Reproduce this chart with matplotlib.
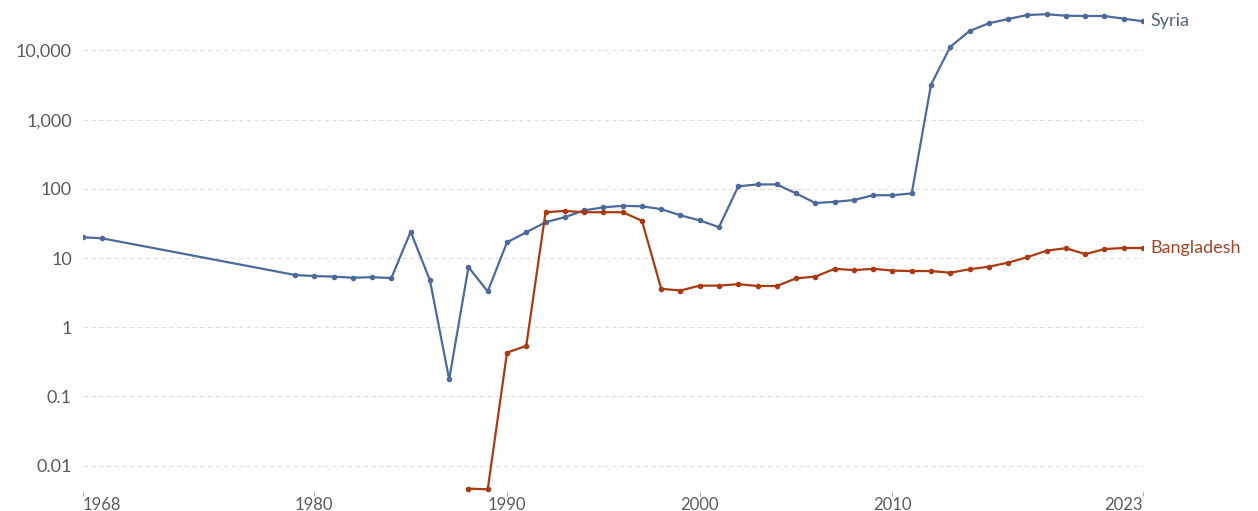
import numpy as np
import matplotlib
matplotlib.use("Agg")
import matplotlib.pyplot as plt
from matplotlib.ticker import FixedLocator, FuncFormatter

# Syria series (1968-1969, then 1979-2023)
syria_years = [1968, 1969] + list(range(1979, 2024))
syria_vals = [20, 19.3,
              5.7, 5.5, 5.4, 5.2, 5.3, 5.15, 24, 4.8, 0.177, 7.4, 3.3,
              16.9, 23.6, 33, 39, 49, 54, 57, 56, 51, 41.5,
              35, 28, 109, 116, 116, 86, 62.5, 65, 69, 81,
              81, 86, 3200, 11300, 19100, 24700, 28500, 32600, 33400, 31800,
              31500, 31500, 28800, 26400]

# Bangladesh series (1988-2023)
bangla_years = list(range(1988, 2024))
bangla_vals = [0.00466, 0.00456, 0.43, 0.54, 46, 48, 46, 46, 46, 34.7,
               3.6, 3.4, 4.0, 4.0, 4.2, 3.95, 3.95, 5.1, 5.4, 7.0,
               6.7, 7.0, 6.6, 6.5, 6.5, 6.15, 6.9, 7.5, 8.6, 10.3,
               12.8, 13.9, 11.4, 13.5, 14.0, 14.0]

x_ticks = [1968, 1980, 1990, 2000, 2010, 2023]
y_ticks = [0.01, 0.1, 1, 10, 100, 1000, 10000]

syria_color = '#4C6A9C'
bangla_color = '#AA3A12'

plt.rcParams['font.family'] = ['Lato', 'DejaVu Sans']

fig = plt.figure(figsize=(12.58, 5.11), dpi=100)
ax = fig.add_axes([83 / 1258, 1 - 492 / 511, 1060 / 1258, 482 / 511])

ax.plot(syria_years, syria_vals, color=syria_color, linewidth=1.6,
        marker='o', markersize=3)
ax.plot(bangla_years, bangla_vals, color=bangla_color, linewidth=1.6,
        marker='o', markersize=3)

ax.set_yscale('log')
ax.set_xlim(1968, 2023)
ax.set_ylim(10 ** -2.38, 10 ** 4.585)

ax.yaxis.set_major_locator(FixedLocator(y_ticks))
ax.yaxis.set_minor_locator(FixedLocator([]))
ax.yaxis.set_major_formatter(FuncFormatter(lambda v, p: '{:,}'.format(v) if v < 1 else '{:,.0f}'.format(v)))
ax.tick_params(axis='y', length=0, pad=8, labelsize=13, labelcolor='#5b5b5b')

ax.set_xticks(x_ticks)
ax.set_xticklabels([str(t) for t in x_ticks])
ax.tick_params(axis='x', direction='out', length=3, width=0.8, color='#b0b0b0',
               pad=0.5, labelsize=12, labelcolor='#5b5b5b')
labels = ax.get_xticklabels()
labels[0].set_horizontalalignment('left')
labels[-1].set_horizontalalignment('right')

ax.grid(axis='y', linestyle=(0, (4, 3)), color='#dddddd', linewidth=0.8)
for s in ax.spines.values():
    s.set_visible(False)

ax.text(2023.4, syria_vals[-1], 'Syria', color='#4f6280', fontsize=13,
        va='center', ha='left', clip_on=False)
ax.text(2023.4, bangla_vals[-1], 'Bangladesh', color='#A0472A', fontsize=13,
        va='center', ha='left', clip_on=False)

fig.savefig('out.png', dpi=100)
